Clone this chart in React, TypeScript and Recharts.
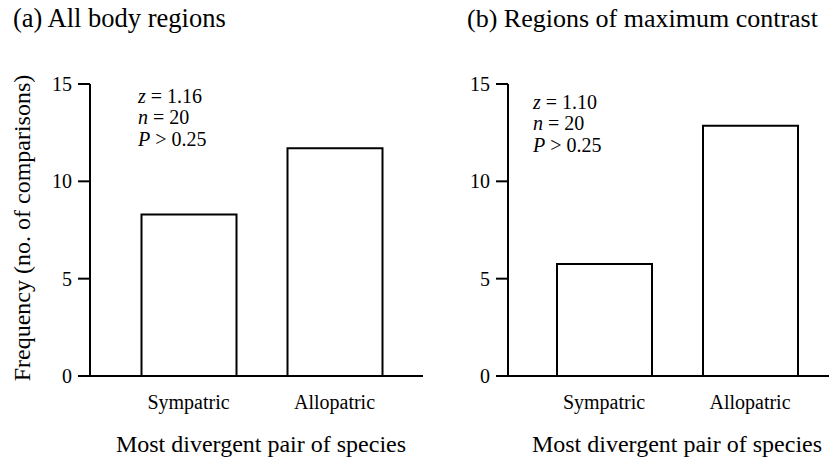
import React from 'react';
import { BarChart, Bar, XAxis, YAxis } from 'recharts';

const categories = ['Sympatric', 'Allopatric'];
const allBodyRegions = [8.3, 11.7];
const maxContrastRegions = [5.75, 12.85];
const yTicks = [0, 5, 10, 15];
const titleA = '(a) All body regions';
const titleB = '(b) Regions of maximum contrast';
const xLabel = 'Most divergent pair of species';
const yLabel = 'Frequency (no. of comparisons)';
const statsA = [['z', ' = 1.16'], ['n', ' = 20'], ['P', ' > 0.25']];
const statsB = [['z', ' = 1.10'], ['n', ' = 20'], ['P', ' > 0.25']];

const FONT = 'Liberation Serif';
const serif = { fontFamily: FONT };

const dataA = categories.map((c, i) => ({ name: c, value: allBodyRegions[i] }));
const dataB = categories.map((c, i) => ({ name: c, value: maxContrastRegions[i] }));

const axisStyle = { stroke: '#000', strokeWidth: 2 };

function XTick(props: any) {
  const { x, y, payload } = props;
  return (
    <text x={x} y={y} dy="0.71em" textAnchor="middle" fontSize={20} fill="#000" style={serif}>
      {payload.value}
    </text>
  );
}

function YTick(props: any) {
  const { x, y, payload } = props;
  return (
    <text x={x} y={y} dy="0.355em" textAnchor="end" fontSize={20} fill="#000" style={serif}>
      {payload.value}
    </text>
  );
}

function Panel({ data, width, yWidth, padLeft, padRight }: any) {
  return (
    <BarChart
      width={width}
      height={462}
      data={data}
      margin={{ top: 84, right: 0, bottom: 0, left: 0 }}
    >
      <XAxis
        dataKey="name"
        height={86}
        interval={0}
        padding={{ left: padLeft, right: padRight }}
        tickSize={0}
        tickMargin={19}
        tickLine={false}
        axisLine={axisStyle}
        tick={<XTick />}
      />
      <YAxis
        type="number"
        width={yWidth}
        domain={[0, 15]}
        ticks={yTicks}
        interval={0}
        tickSize={12}
        tickMargin={6}
        tickLine={axisStyle}
        axisLine={axisStyle}
        tick={<YTick />}
      />
      <Bar
        dataKey="value"
        fill="#fff"
        stroke="#000"
        strokeWidth={2}
        barSize={95}
        isAnimationActive={false}
      />
    </BarChart>
  );
}

function Stats({ lines, x, y0 }: any) {
  return (
    <text x={x} y={y0} fontSize={20} fill="#000" style={serif}>
      {lines.map((l: string[], i: number) => (
        <tspan key={i} x={x} y={y0 + i * 21.7}>
          <tspan fontStyle="italic">{l[0]}</tspan>
          {l[1]}
        </tspan>
      ))}
    </text>
  );
}

export default function App() {
  return (
    <div
      style={{
        position: 'absolute',
        left: 0,
        top: 0,
        width: 829,
        height: 462,
        background: '#fff',
        overflow: 'hidden',
      }}
    >
      <div style={{ position: 'absolute', left: 0, top: 0 }}>
        <Panel data={dataA} width={423} yWidth={90} padLeft={25.5} padRight={15.5} />
      </div>
      <div style={{ position: 'absolute', left: 420, top: 0 }}>
        <Panel data={dataB} width={409} yWidth={88} padLeft={23} padRight={6} />
      </div>
      <svg
        width={829}
        height={462}
        style={{ position: 'absolute', left: 0, top: 0, pointerEvents: 'none' }}
      >
        <text x={13} y={27} fontSize={26.5} fill="#000" style={serif}>
          {titleA}
        </text>
        <text x={467} y={27} fontSize={26} fill="#000" style={serif}>
          {titleB}
        </text>
        <Stats lines={statsA} x={138} y0={102.5} />
        <Stats lines={statsB} x={533} y0={108.7} />
        <text
          transform="translate(30,228) rotate(-90)"
          textAnchor="middle"
          fontSize={24}
          fill="#000"
          style={serif}
        >
          {yLabel}
        </text>
        <text x={261} y={452} textAnchor="middle" fontSize={24} fill="#000" style={serif}>
          {xLabel}
        </text>
        <text x={677} y={452} textAnchor="middle" fontSize={24} fill="#000" style={serif}>
          {xLabel}
        </text>
      </svg>
    </div>
  );
}
